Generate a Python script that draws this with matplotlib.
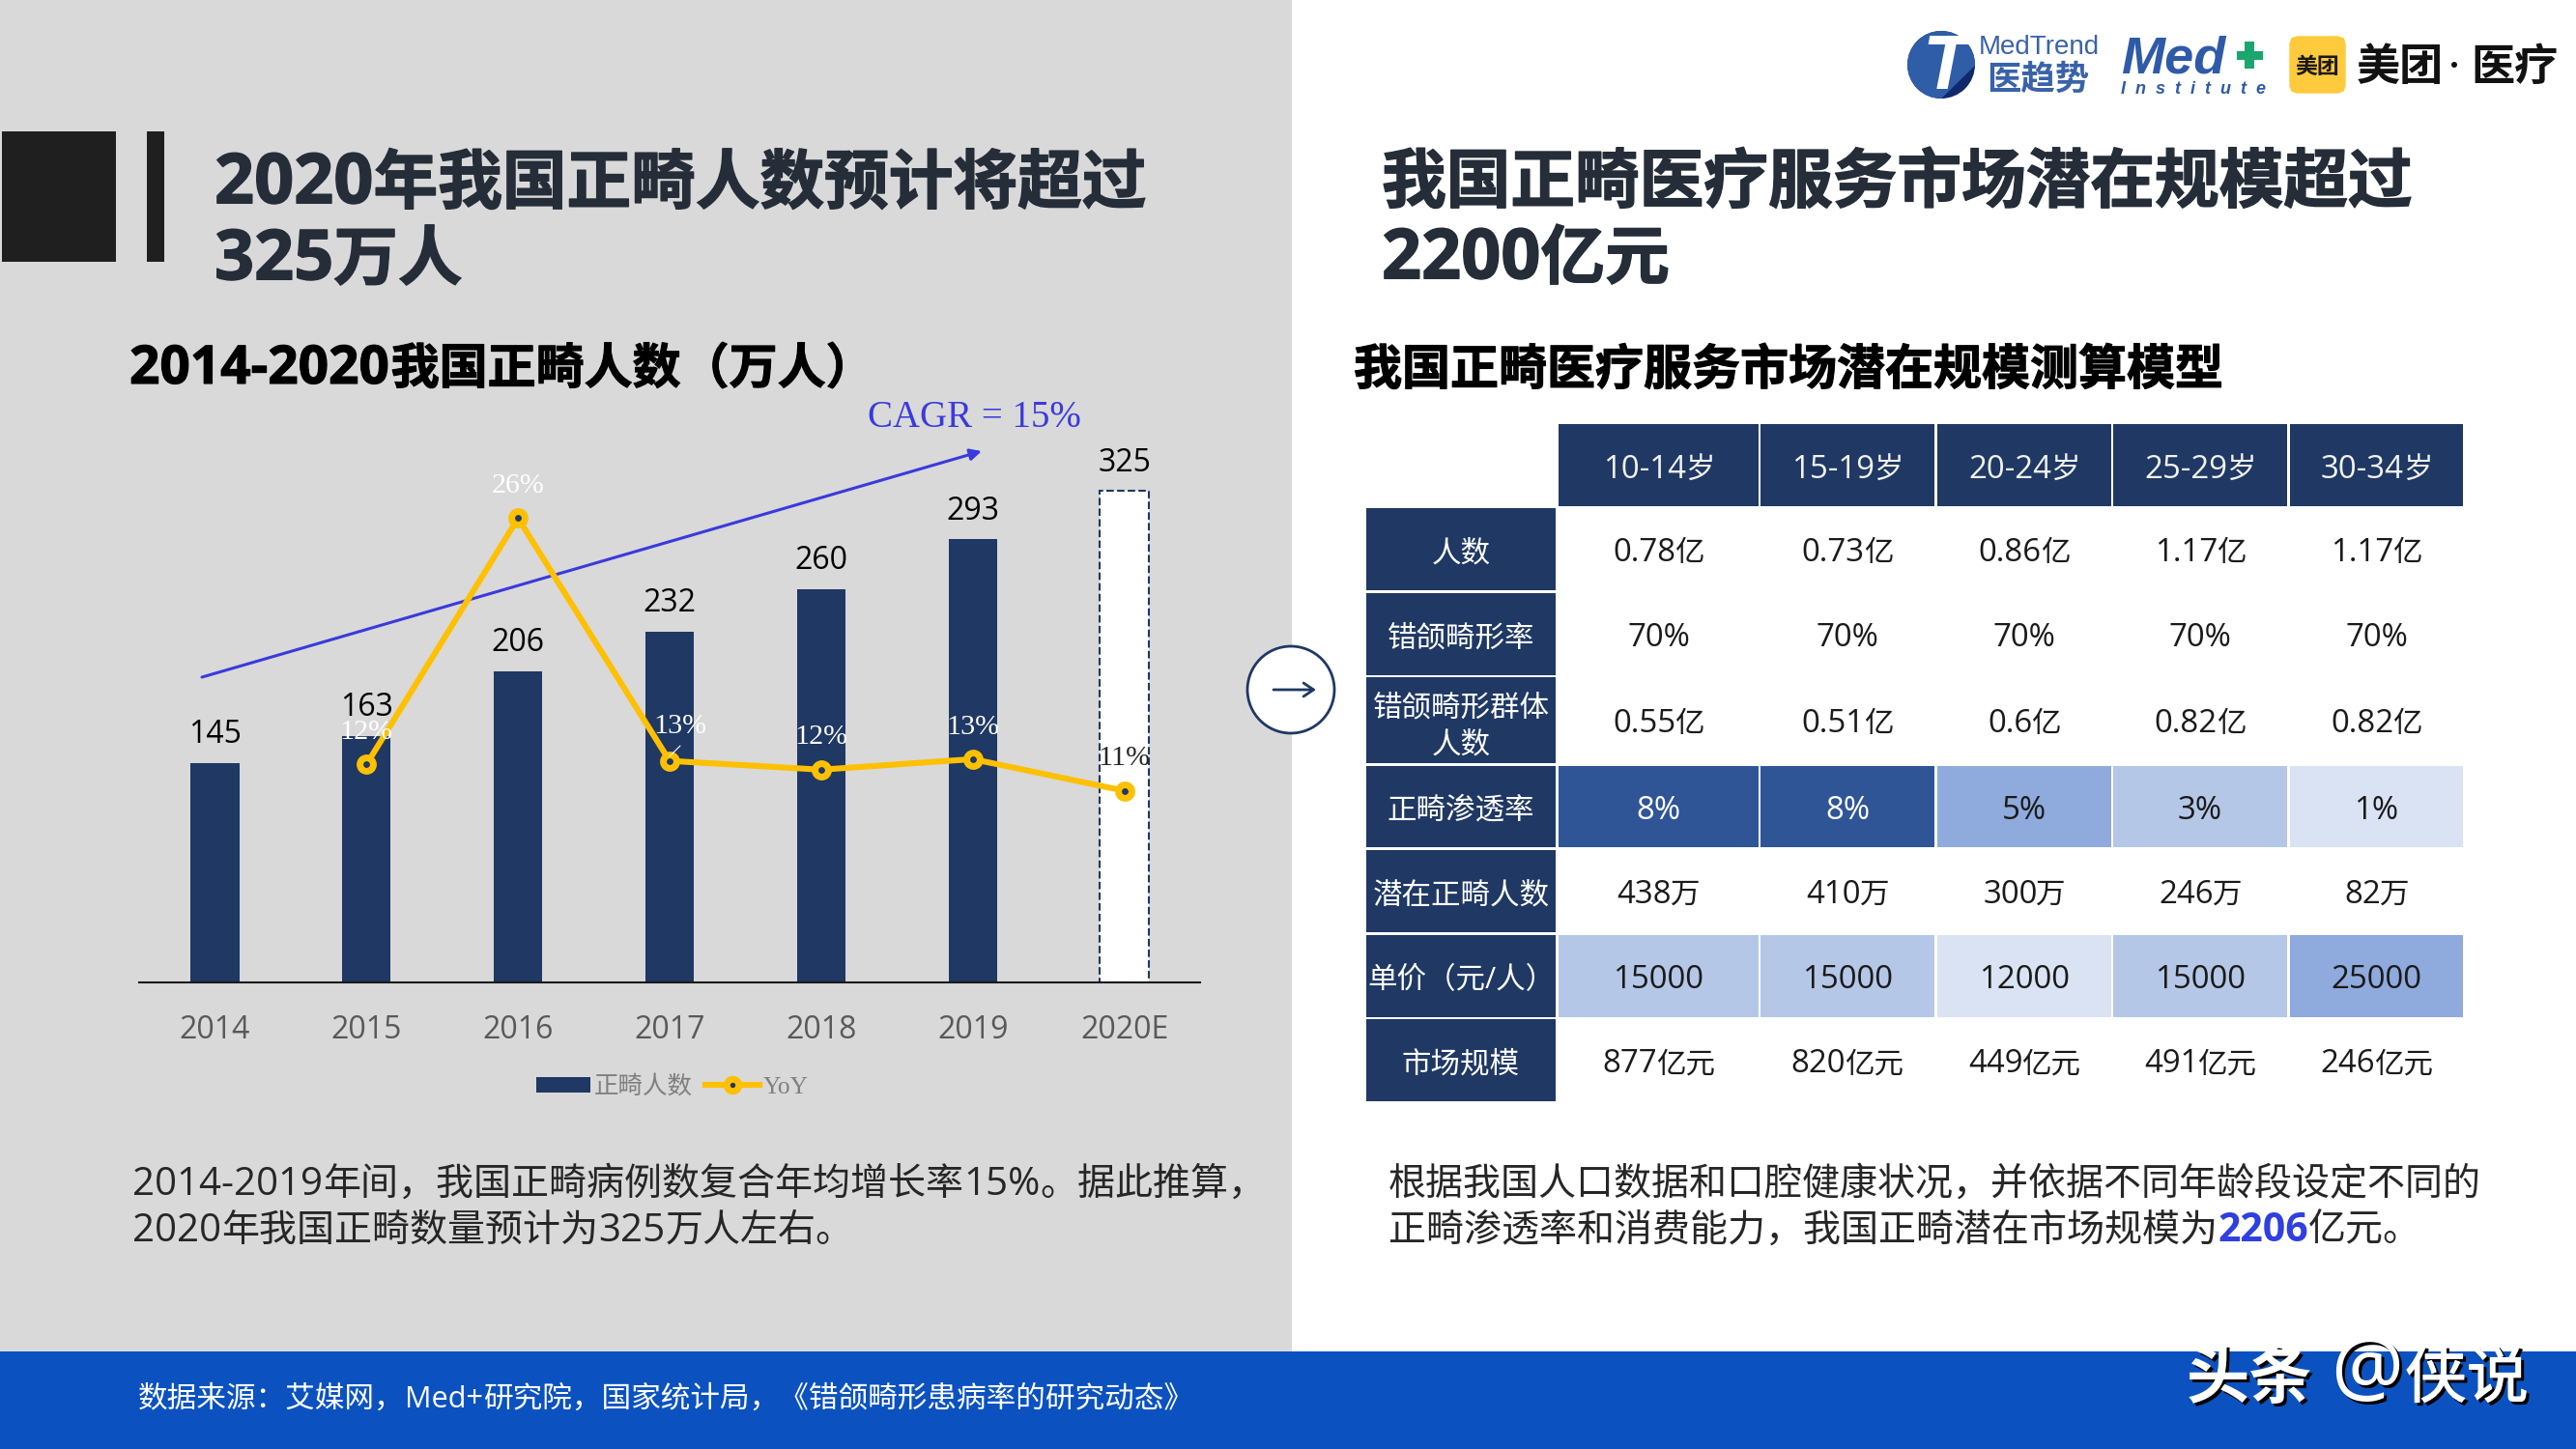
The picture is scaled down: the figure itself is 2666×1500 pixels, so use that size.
import re
import matplotlib
matplotlib.use("Agg")
import matplotlib.pyplot as plt
import matplotlib.patheffects as pe
from matplotlib.patches import Rectangle, Ellipse, Circle, FancyBboxPatch, Polygon
from matplotlib.lines import Line2D
from matplotlib.patches import Patch

# ---------- data ----------
years = ['2014', '2015', '2016', '2017', '2018', '2019', '2020E']
patients = [145, 163, 206, 232, 260, 293, 325]
yoy_years = ['2015', '2016', '2017', '2018', '2019', '2020E']
yoy = [12.4, 26.4, 12.6, 12.1, 12.7, 10.9]
yoy_labels = ['12%', '26%', '13%', '12%', '13%', '11%']

age_groups = ['10-14岁', '15-19岁', '20-24岁', '25-29岁', '30-34岁']
row_labels = ['人数', '错颌畸形率', '错颌畸形群体\n人数', '正畸渗透率', '潜在正畸人数', '单价（元/人）', '市场规模']
row_people = ['0.78亿', '0.73亿', '0.86亿', '1.17亿', '1.17亿']
row_rate = ['70%', '70%', '70%', '70%', '70%']
row_group = ['0.55亿', '0.51亿', '0.6亿', '0.82亿', '0.82亿']
row_penetration = ['8%', '8%', '5%', '3%', '1%']
row_potential = ['438万', '410万', '300万', '246万', '82万']
row_price = ['15000', '15000', '12000', '15000', '25000']
row_market = ['877亿元', '820亿元', '449亿元', '491亿元', '246亿元']

# ---------- style ----------
NAVY = '#1F3864'
YEL = '#FFC000'
GRAY = '#D9D9D9'
FOOT = '#0B52C0'
INK = '#252D38'
VIOLET = '#3A3ADC'
SANS = ['Open Sans', 'Noto Sans CJK SC', 'DejaVu Sans']
SERIF = ['Liberation Serif', 'Noto Sans CJK SC']
plt.rcParams['font.family'] = SANS

fig = plt.figure(figsize=(26.66, 15), dpi=100, facecolor='white')
bg = fig.add_axes([0, 0, 1, 1], zorder=0)
bg.set_xlim(0, 2666)
bg.set_ylim(1500, 0)
bg.axis('off')
renderer = fig.canvas.get_renderer()

bg.add_patch(Rectangle((0, 0), 1337, 1400, fc=GRAY, ec='none'))
bg.add_patch(Rectangle((0, 1399), 2666, 101, fc=FOOT, ec='none'))
bg.add_patch(Rectangle((2, 136), 118, 135, fc='#1F1F1F', ec='none'))
bg.add_patch(Rectangle((152, 136), 18, 135, fc='#1F1F1F', ec='none'))


def T(x, yc, s, size, color='black', weight='normal', ha='left', family=None, factor=1.08, heavy=0, gap=0.0, **kw):
    """Text whose Latin runs are slightly enlarged; yc is the visual centre of the CJK glyphs."""
    base = yc + 0.38 * size * 100 / 72
    parts = re.findall(r'[0-9.\-%+A-Za-z]+|[^0-9.\-%+A-Za-z]+', s)
    items, cur = [], x
    for p in parts:
        sz = size * factor if re.match(r'[0-9.\-%+A-Za-z]', p) else size
        t = bg.text(cur, base, p, fontsize=sz, color=color, fontweight=weight, ha='left', va='baseline',
                    family=family or SANS, **kw)
        if heavy:
            t.set_path_effects([pe.withStroke(linewidth=heavy, foreground=color)])
        w = t.get_window_extent(renderer).width + gap
        items.append((t, cur))
        cur += w
    if ha == 'center':
        shift = (cur - gap - x) / 2
        for t, c in items:
            t.set_x(c - shift)
    return cur


# titles
T(222, 185, '2020年我国正畸人数预计将超过', 48, INK, 'bold', heavy=1.0)
T(222, 264, '325万人', 48, INK, 'bold', heavy=1.0)
T(1430, 184, '我国正畸医疗服务市场潜在规模超过', 48, INK, 'bold', heavy=1.0)
T(1430, 263, '2200亿元', 48, INK, 'bold', heavy=1.0)
T(134, 378, '2014-2020我国正畸人数（万人）', 36, 'black', 'bold', heavy=0.8, factor=1.1, gap=1.5)
T(1401, 379, '我国正畸医疗服务市场潜在规模测算模型', 36, 'black', 'bold', heavy=0.8)

# body
T(137, 1222, '2014-2019年间，我国正畸病例数复合年均增长率15%。据此推算，', 28.1, '#262626', factor=1.03)
T(137, 1270, '2020年我国正畸数量预计为325万人左右。', 28.1, '#262626', factor=1.03)
T(1437, 1222, '根据我国人口数据和口腔健康状况，并依据不同年龄段设定不同的', 28.1, '#262626')
x = T(1437, 1270, '正畸渗透率和消费能力，我国正畸潜在市场规模为', 28.1, '#262626')
x = T(x, 1270, '2206', 28.1, '#2F3FE0', 'bold', factor=1.05)
T(x, 1270, '亿元。', 28.1, '#262626')

# footer
T(143, 1445, '数据来源：艾媒网，Med+研究院，国家统计局，《错颌畸形患病率的研究动态》', 22.1, 'white', factor=1.0)
for dx, c in [(3, 'black'), (0, 'white')]:
    T(2263 + dx, 1422 + dx, '头条', 47, c, 'bold')
    bg.text(2412 + dx, 1422 + dx, '@', fontsize=60, color=c, ha='left', va='center', family=['Noto Sans'])
    T(2489 + dx, 1422 + dx, '侠说', 46, c, 'normal', heavy=0.8)

# ---------- chart ----------
ax = fig.add_axes([144 / 2666, (1500 - 1017) / 1500, 1098 / 2666, 587 / 1500], zorder=1)
ax.patch.set_alpha(0)
xs = list(range(len(years)))
bar_face = [NAVY] * 6 + ['white']
bars = ax.bar(xs, patients, width=0.32, color=bar_face, linewidth=0, label='正畸人数')
bars[-1].set(edgecolor=NAVY, linewidth=1.5, linestyle='--')
ax.set_xlim(-0.5, 6.5)
ax.set_ylim(0, 375)
ax.set_yticks([])
ax.set_xticks(xs, years, fontsize=23, color='#595959')
ax.tick_params(axis='x', length=0, pad=24)
for s in ['left', 'right', 'top']:
    ax.spines[s].set_visible(False)
ax.spines['bottom'].set_color('#1A1A1A')
ax.spines['bottom'].set_linewidth(1.5)
for xi, v in zip(xs, patients):
    ax.annotate(str(v), (xi, v), xytext=(0, 21), textcoords='offset points', ha='center', va='center',
                fontsize=23, color='black')

ax2 = fig.add_axes(ax.get_position(), zorder=2)
ax2.patch.set_alpha(0)
ax2.axis('off')
ax2.set_xlim(-0.5, 6.5)
ax2.set_ylim(0, 32.25)
xl = [years.index(y) for y in yoy_years]
line, = ax2.plot(xl, yoy, color=YEL, lw=4.4, marker='o', ms=10, mfc=NAVY, mec=YEL, mew=5,
                 solid_joinstyle='miter', label='YoY')
label_off = [(0, 24), (0, 24), (8, 25.5), (0, 24.5), (0, 24), (0, 24)]
for xi, v, s, off in zip(xl, yoy, yoy_labels, label_off):
    col = '#262626' if s == '11%' else 'white'
    ax2.annotate(s, (xi, v), xytext=off, textcoords='offset points', ha='center', va='center',
                 fontsize=21.6, color=col, family=SERIF)
ax2.annotate('', (3.07, 13.46), xytext=(3.0, 12.86), arrowprops=dict(arrowstyle='-', color='white', lw=0.8,
                                                                      shrinkA=0, shrinkB=0))

# CAGR arrow
bg2 = fig.add_axes([0, 0, 1, 1], zorder=1.5)
bg2.set_xlim(0, 2666)
bg2.set_ylim(1500, 0)
bg2.axis('off')
bg2.annotate('', (1016, 467), xytext=(209, 701),
             arrowprops=dict(arrowstyle='-|>,head_length=0.7,head_width=0.35', color=VIOLET, lw=2.2,
                             shrinkA=0, shrinkB=0))
bg2.text(1008, 433, 'CAGR = 15%', fontsize=28, color=VIOLET, family=SERIF, ha='center', va='center')

leg = ax2.legend(handles=[Patch(fc=NAVY, ec='none', label='正畸人数'),
                          Line2D([], [], color=YEL, lw=4.4, marker='o', ms=9, mfc=NAVY, mec=YEL, mew=5, label='YoY')],
                 loc='center', bbox_to_anchor=(696, 1125), bbox_transform=bg.transData, ncol=2, frameon=False,
                 prop={'family': SERIF, 'size': 18.4}, labelcolor='#7F7F7F', handlelength=2.2,
                 handletextpad=0.15, columnspacing=0.5, numpoints=1, handleheight=0.6)

# ---------- connector circle ----------
bg3 = fig.add_axes([0, 0, 1, 1], zorder=3)
bg3.set_xlim(0, 2666)
bg3.set_ylim(1500, 0)
bg3.axis('off')
bg3.add_patch(Circle((1336, 714), 45, fc='white', ec=NAVY, lw=2))
bg3.annotate('', (1362, 714), xytext=(1318, 714),
             arrowprops=dict(arrowstyle='->,head_length=0.75,head_width=0.5', color=NAVY, lw=2, shrinkA=0, shrinkB=0))

# ---------- table ----------
col_x0 = [1613, 1822, 2005, 2187, 2370]
col_x1 = [1820, 2002, 2185, 2367, 2549]
row_y0 = [526, 614, 701, 793, 880, 968, 1055]
row_y1 = [611, 699, 790, 877, 965, 1053, 1140]
rows = [row_people, row_rate, row_group, row_penetration, row_potential, row_price, row_market]
shade = {'8%': '#2F5597', '5%': '#8FAADC', '3%': '#B4C7E7', '1%': '#DAE3F3',
         '15000': '#B4C7E7', '12000': '#DAE3F3', '25000': '#8FAADC'}
TS = 22
for x0, x1, s in zip(col_x0, col_x1, age_groups):
    bg.add_patch(Rectangle((x0, 439), x1 - x0, 85, fc=NAVY, ec='none'))
    T((x0 + x1) / 2, 483, s, TS, '#F2F2F2', ha='center', gap=-1)
for i, (lab, vals) in enumerate(zip(row_labels, rows)):
    y0, y1 = row_y0[i], row_y1[i]
    cy = (y0 + y1) / 2 + 1
    bg.add_patch(Rectangle((1414, y0), 196, y1 - y0, fc=NAVY, ec='none'))
    if '\n' in lab:
        a, b = lab.split('\n')
        T(1512, cy - 17, a, TS, 'white', ha='center')
        T(1512, cy + 21, b, TS, 'white', ha='center')
    else:
        T(1512, cy, lab, TS, 'white', ha='center')
    for x0, x1, v in zip(col_x0, col_x1, vals):
        fc = shade.get(v)
        if fc:
            bg.add_patch(Rectangle((x0, y0), x1 - x0, y1 - y0, fc=fc, ec='none'))
        col = 'white' if v == '8%' else '#1A1A1A'
        T((x0 + x1) / 2, cy, v, TS, col, ha='center', gap=-1)

# ---------- logos (redrawn) ----------
e = Ellipse((2009, 67), 70, 70, fc='#10296B', ec='none')
bg.add_patch(e)
lp = Polygon([(1970, 28), (2050, 28), (2050, 62), (2005, 106), (1970, 106)], fc='#2F5DA8', ec='none')
bg.add_patch(lp)
lp.set_clip_path(e)
bg.text(2014, 92, 'T', fontsize=57, color='white', fontweight='bold', style='italic', ha='center', va='baseline',
        family=['Liberation Sans'])
T(2048, 45, 'MedTrend', 20, '#3A62A8', family=['Liberation Sans Narrow', 'Liberation Sans'], factor=1)
T(2056, 79, '医趋势', 25.5, '#3A62A8', 'bold', family=['Noto Sans CJK SC'], factor=1)
bg.text(2195, 75, 'Med', fontsize=39, color='#2F5AA8', fontweight='bold', style='italic', ha='left', va='baseline',
        family=['Liberation Sans'])
bg.add_patch(Rectangle((2315, 53), 27, 9, fc='#1DA56F', ec='none'))
bg.add_patch(Rectangle((2323, 43), 10, 28, fc='#1DA56F', ec='none'))
bg.text(2195, 97, 'I  n  s  t  i  t  u  t  e', fontsize=13, color='#2F5AA8', fontweight='bold', style='italic',
        ha='left', va='baseline', family=['Liberation Sans'])
bg.add_patch(FancyBboxPatch((2379, 47), 39, 40, boxstyle='round,pad=0,rounding_size=0.1', fc='#FFCB3D', ec='#FFCB3D', lw=14))
T(2398, 67, '美团', 16.5, '#1A1A1A', 'bold', ha='center', family=['Noto Sans CJK SC'], factor=1)
T(2439, 66, '美团', 32.5, '#111111', 'bold', family=['Noto Sans CJK SC'], factor=1)
bg.add_patch(Circle((2540, 67), 3, fc='#111111', ec='none'))
T(2557, 66, '医疗', 32.5, '#111111', 'bold', family=['Noto Sans CJK SC'], factor=1)

fig.savefig('out.png', dpi=100, facecolor='white')
